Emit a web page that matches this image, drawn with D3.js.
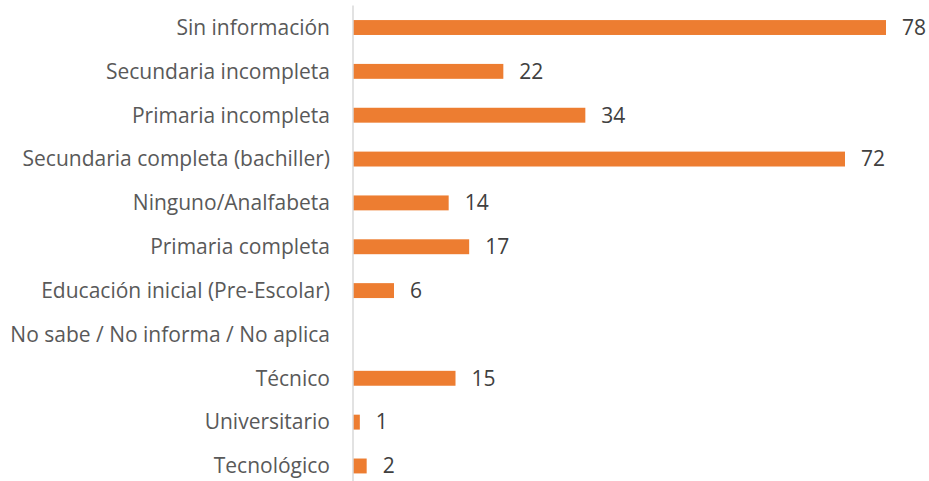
<!DOCTYPE html>
<html>
<head>
<meta charset="utf-8">
<script src="https://cdn.jsdelivr.net/npm/d3@7"></script>
<style>
  html, body { margin: 0; padding: 0; background: #fff; }
  svg { display: block; }
</style>
</head>
<body>
<svg id="chart" width="929" height="481"></svg>
<script>
// Nivel educativo: categorías y conteos
const categories = [
  "Sin información",
  "Secundaria incompleta",
  "Primaria incompleta",
  "Secundaria completa (bachiller)",
  "Ninguno/Analfabeta",
  "Primaria completa",
  "Educación inicial (Pre-Escolar)",
  "No sabe / No informa / No aplica",
  "Técnico",
  "Universitario",
  "Tecnológico"
];
const values = [78, 22, 34, 72, 14, 17, 6, null, 15, 1, 2];

const svg = d3.select("#chart");
const axisX = 353;
const fontFamily = "'Open Sans', sans-serif";

const x = d3.scaleLinear().domain([0, 78]).range([axisX, 886]);
const y = d3.scaleBand().domain(categories).range([5.6, 487.9]).paddingInner(0.66).paddingOuter(0.33);

const data = categories.map((c, i) => ({ cat: c, val: values[i] }));

// bars
svg.append("g").selectAll("rect")
  .data(data.filter(d => d.val != null))
  .join("rect")
  .attr("x", x(0))
  .attr("y", d => y(d.cat))
  .attr("width", d => x(d.val) - x(0))
  .attr("height", y.bandwidth())
  .attr("fill", "#ed7d31");

// vertical category axis line
svg.append("line")
  .attr("x1", axisX).attr("x2", axisX)
  .attr("y1", 5.6).attr("y2", 481)
  .attr("stroke", "#d9d9d9").attr("stroke-width", 1.5);

// category labels
svg.append("g").selectAll("text")
  .data(data)
  .join("text")
  .attr("x", axisX - 23)
  .attr("y", d => y(d.cat) + y.bandwidth() / 2)
  .attr("dy", "0.35em")
  .attr("text-anchor", "end")
  .attr("font-family", fontFamily)
  .attr("font-size", 21)
  .attr("fill", "#595959")
  .text(d => d.cat);

// value labels
svg.append("g").selectAll("text")
  .data(data.filter(d => d.val != null))
  .join("text")
  .attr("x", d => x(d.val) + 16)
  .attr("y", d => y(d.cat) + y.bandwidth() / 2)
  .attr("dy", "0.35em")
  .attr("font-family", fontFamily)
  .attr("font-size", 21)
  .attr("fill", "#404040")
  .text(d => d.val);
</script>
</body>
</html>
